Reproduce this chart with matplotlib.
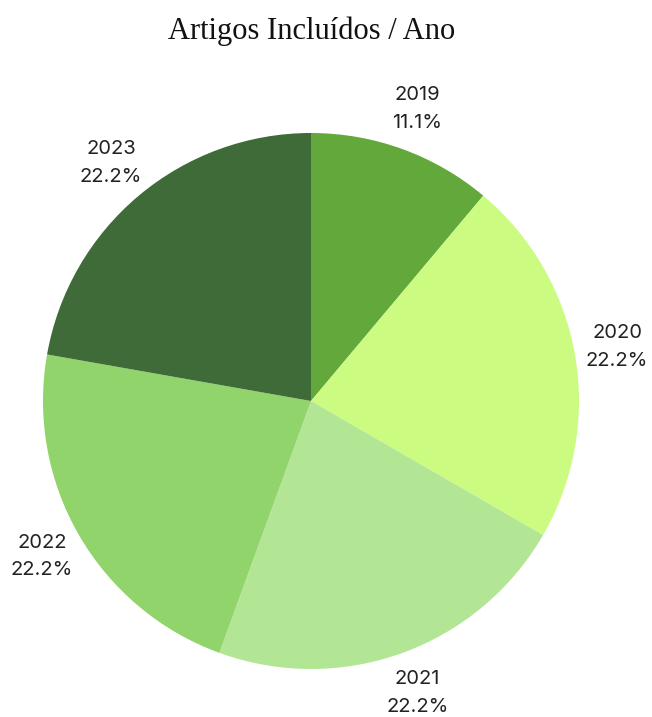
import matplotlib
matplotlib.use("Agg")
import matplotlib.pyplot as plt

years = ["2019", "2020", "2021", "2022", "2023"]
counts = [1, 2, 2, 2, 2]
colors = ["#62a83a", "#ccfb82", "#b3e694", "#90d46b", "#3e6b37"]

W, H = 652, 717
fig = plt.figure(figsize=(W / 100, H / 100), dpi=100)
cx, cy, r = 311, 401, 268
ax = fig.add_axes([(cx - r) / W, (H - cy - r) / H, 2 * r / W, 2 * r / H])

total = sum(counts)
labels = [f"{y}\n{c / total * 100:.1f}%" for y, c in zip(years, counts)]
wedges, texts = ax.pie(counts, labels=labels, colors=colors, startangle=90,
                       counterclock=False, radius=1.0, labeldistance=1.16,
                       wedgeprops=dict(linewidth=0),
                       textprops=dict(fontsize=14.5, family="Inter", color="#222222",
                                      ha="center", va="center", linespacing=1.7))
ax.set_xlim(-1, 1)
ax.set_ylim(-1, 1)
ax.set_aspect("equal")
ax.axis("off")

fig.text(311.5 / W, 1 - 31 / H, "Artigos Incluídos / Ano", ha="center", va="center",
         fontsize=22, family="Liberation Serif", color="#111111")

fig.savefig("out.png", dpi=100, facecolor="white")
